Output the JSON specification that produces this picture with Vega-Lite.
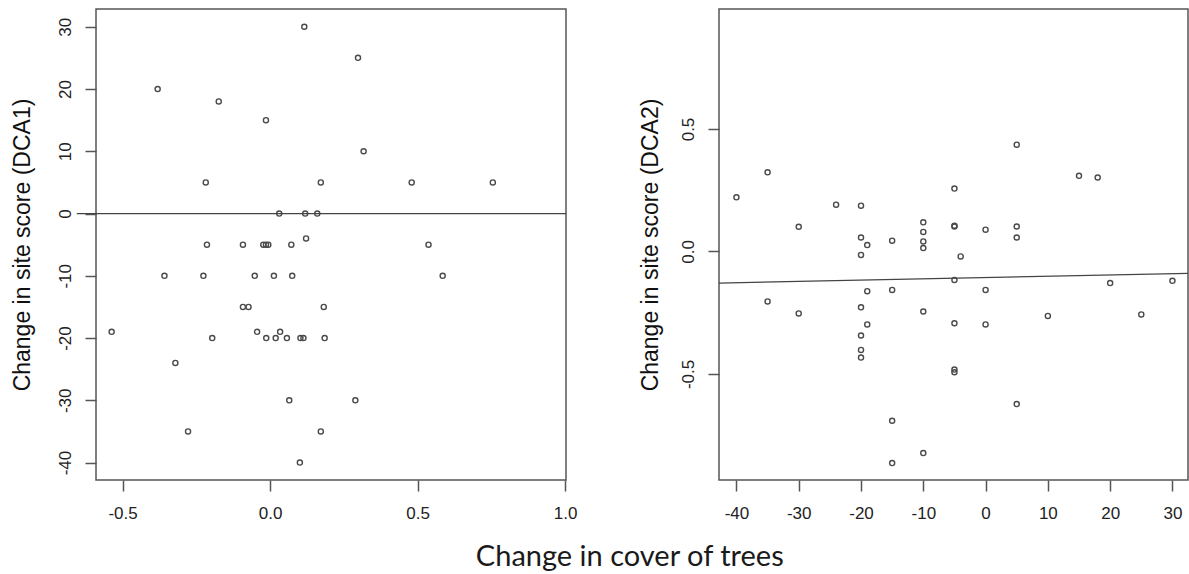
{
  "$schema": "https://vega.github.io/schema/vega-lite/v6.json",
  "padding": {"left": 10, "top": 8, "right": 0, "bottom": 0},
  "background": "white",
  "datasets": {
    "left": [
      {"cover": -0.381, "score": 20}, {"cover": -0.174, "score": 18}, {"cover": -0.014, "score": 15},
      {"cover": 0.116, "score": 30}, {"cover": 0.298, "score": 25}, {"cover": 0.317, "score": 10},
      {"cover": -0.218, "score": 5}, {"cover": 0.172, "score": 5}, {"cover": 0.48, "score": 5},
      {"cover": 0.755, "score": 5}, {"cover": 0.031, "score": 0}, {"cover": 0.119, "score": 0},
      {"cover": 0.16, "score": 0}, {"cover": 0.122, "score": -4}, {"cover": -0.214, "score": -5},
      {"cover": -0.092, "score": -5}, {"cover": -0.023, "score": -5}, {"cover": -0.014, "score": -5},
      {"cover": -0.006, "score": -5}, {"cover": 0.072, "score": -5}, {"cover": 0.537, "score": -5},
      {"cover": -0.358, "score": -10}, {"cover": -0.226, "score": -10}, {"cover": -0.052, "score": -10},
      {"cover": 0.013, "score": -10}, {"cover": 0.075, "score": -10}, {"cover": 0.585, "score": -10},
      {"cover": -0.092, "score": -15}, {"cover": -0.073, "score": -15}, {"cover": 0.182, "score": -15},
      {"cover": -0.537, "score": -19}, {"cover": -0.196, "score": -20}, {"cover": -0.044, "score": -19},
      {"cover": -0.013, "score": -20}, {"cover": 0.019, "score": -20}, {"cover": 0.034, "score": -19},
      {"cover": 0.057, "score": -20}, {"cover": 0.103, "score": -20}, {"cover": 0.113, "score": -20},
      {"cover": 0.185, "score": -20}, {"cover": -0.321, "score": -24}, {"cover": 0.065, "score": -30},
      {"cover": 0.289, "score": -30}, {"cover": -0.278, "score": -35}, {"cover": 0.172, "score": -35},
      {"cover": 0.101, "score": -40}
    ],
    "leftFit": [{"cover": -0.655, "score": 0}, {"cover": 1.003, "score": 0}],
    "right": [
      {"cover": -40, "score": 0.221}, {"cover": -35, "score": 0.323}, {"cover": -30, "score": 0.101},
      {"cover": -24, "score": 0.191}, {"cover": -20, "score": 0.187}, {"cover": -20, "score": 0.057},
      {"cover": -19, "score": 0.026}, {"cover": -20, "score": -0.014}, {"cover": -15, "score": 0.044},
      {"cover": -10, "score": 0.119}, {"cover": -10, "score": 0.08}, {"cover": -10, "score": 0.041},
      {"cover": -10, "score": 0.014}, {"cover": -5, "score": 0.257}, {"cover": -5, "score": 0.102},
      {"cover": -5, "score": 0.105}, {"cover": -4, "score": -0.02}, {"cover": 0, "score": 0.089},
      {"cover": 5, "score": 0.436}, {"cover": 5, "score": 0.102}, {"cover": 5, "score": 0.057},
      {"cover": 15, "score": 0.309}, {"cover": 18, "score": 0.302}, {"cover": -5, "score": -0.116},
      {"cover": 0, "score": -0.157}, {"cover": 20, "score": -0.129}, {"cover": 30, "score": -0.12},
      {"cover": -35, "score": -0.204}, {"cover": -30, "score": -0.253}, {"cover": -19, "score": -0.162},
      {"cover": -15, "score": -0.157}, {"cover": -20, "score": -0.228}, {"cover": -19, "score": -0.298},
      {"cover": -10, "score": -0.245}, {"cover": -5, "score": -0.293}, {"cover": 0, "score": -0.298},
      {"cover": 10, "score": -0.263}, {"cover": 25, "score": -0.257}, {"cover": -20, "score": -0.343},
      {"cover": -20, "score": -0.402}, {"cover": -20, "score": -0.433}, {"cover": -5, "score": -0.482},
      {"cover": -5, "score": -0.493}, {"cover": 5, "score": -0.623}, {"cover": -15, "score": -0.691},
      {"cover": -10, "score": -0.823}, {"cover": -15, "score": -0.864}
    ],
    "rightFit": [{"cover": -42.8, "score": -0.129}, {"cover": 32.5, "score": -0.089}]
  },
  "title": {
    "text": "Change in cover of trees",
    "orient": "bottom",
    "anchor": "middle",
    "font": "Lato",
    "fontSize": 29,
    "fontWeight": "normal",
    "color": "#1a1a1a",
    "offset": 21,
    "dx": 29
  },
  "bounds": "flush",
  "spacing": 153,
  "hconcat": [
    {
      "width": 470,
      "height": 471,
      "layer": [
        {
          "data": {"name": "left"},
          "mark": {"type": "point", "shape": "circle", "filled": false, "stroke": "#4a4a4a", "strokeWidth": 1.4, "size": 26, "opacity": 1},
          "encoding": {
            "x": {
              "field": "cover", "type": "quantitative",
              "scale": {"domain": [-0.59, 1.003], "nice": false, "zero": false},
              "axis": {"values": [-0.5, 0, 0.5, 1], "format": ".1f", "title": null, "labelPadding": 14,
                       "labelExpr": "replace(datum.label, '\u2212', '-')"}
            },
            "y": {
              "field": "score", "type": "quantitative",
              "scale": {"domain": [-42.8, 32.85], "nice": false, "zero": false},
              "axis": {"values": [-40, -30, -20, -10, 0, 10, 20, 30], "format": "d",
                       "title": "Change in site score (DCA1)",
                       "labelAngle": -90, "labelAlign": "center", "labelBaseline": "bottom", "labelPadding": 10.5,
                       "titleX": -62, "titleAngle": -90, "titleAlign": "center", "titleBaseline": "bottom",
                       "labelExpr": "replace(datum.label, '\u2212', '-')"}
            }
          }
        },
        {
          "data": {"name": "leftFit"},
          "mark": {"type": "line", "stroke": "#444", "strokeWidth": 1.3},
          "encoding": {
            "x": {"field": "cover", "type": "quantitative"},
            "y": {"field": "score", "type": "quantitative"}
          }
        }
      ]
    },
    {
      "width": 469,
      "height": 471,
      "layer": [
        {
          "data": {"name": "right"},
          "mark": {"type": "point", "shape": "circle", "filled": false, "stroke": "#4a4a4a", "strokeWidth": 1.4, "size": 26, "opacity": 1},
          "encoding": {
            "x": {
              "field": "cover", "type": "quantitative",
              "scale": {"domain": [-42.8, 32.5], "nice": false, "zero": false},
              "axis": {"values": [-40, -30, -20, -10, 0, 10, 20, 30], "format": "d", "title": null, "labelPadding": 14,
                       "labelExpr": "replace(datum.label, '\u2212', '-')"}
            },
            "y": {
              "field": "score", "type": "quantitative",
              "scale": {"domain": [-0.933, 0.99], "nice": false, "zero": false},
              "axis": {"values": [-0.5, 0, 0.5], "format": ".1f",
                       "title": "Change in site score (DCA2)",
                       "labelAngle": -90, "labelAlign": "center", "labelBaseline": "bottom", "labelPadding": 10.5,
                       "titleX": -57, "titleAngle": -90, "titleAlign": "center", "titleBaseline": "bottom",
                       "labelExpr": "replace(datum.label, '\u2212', '-')"}
            }
          }
        },
        {
          "data": {"name": "rightFit"},
          "mark": {"type": "line", "stroke": "#444", "strokeWidth": 1.3},
          "encoding": {
            "x": {"field": "cover", "type": "quantitative"},
            "y": {"field": "score", "type": "quantitative"}
          }
        }
      ]
    }
  ],
  "config": {
    "font": "Liberation Sans",
    "view": {"stroke": "#555", "strokeWidth": 1.5},
    "axis": {
      "grid": false,
      "domain": false,
      "tickColor": "#555",
      "tickWidth": 1.5,
      "tickSize": 11,
      "labelFont": "Liberation Sans",
      "labelFontSize": 17,
      "labelColor": "#222",
      "labelOverlap": false,
      "labelFlush": false,
      "titleFont": "Liberation Sans",
      "titleFontSize": 23,
      "titleFontWeight": "normal",
      "titleColor": "#111"
    }
  }
}
